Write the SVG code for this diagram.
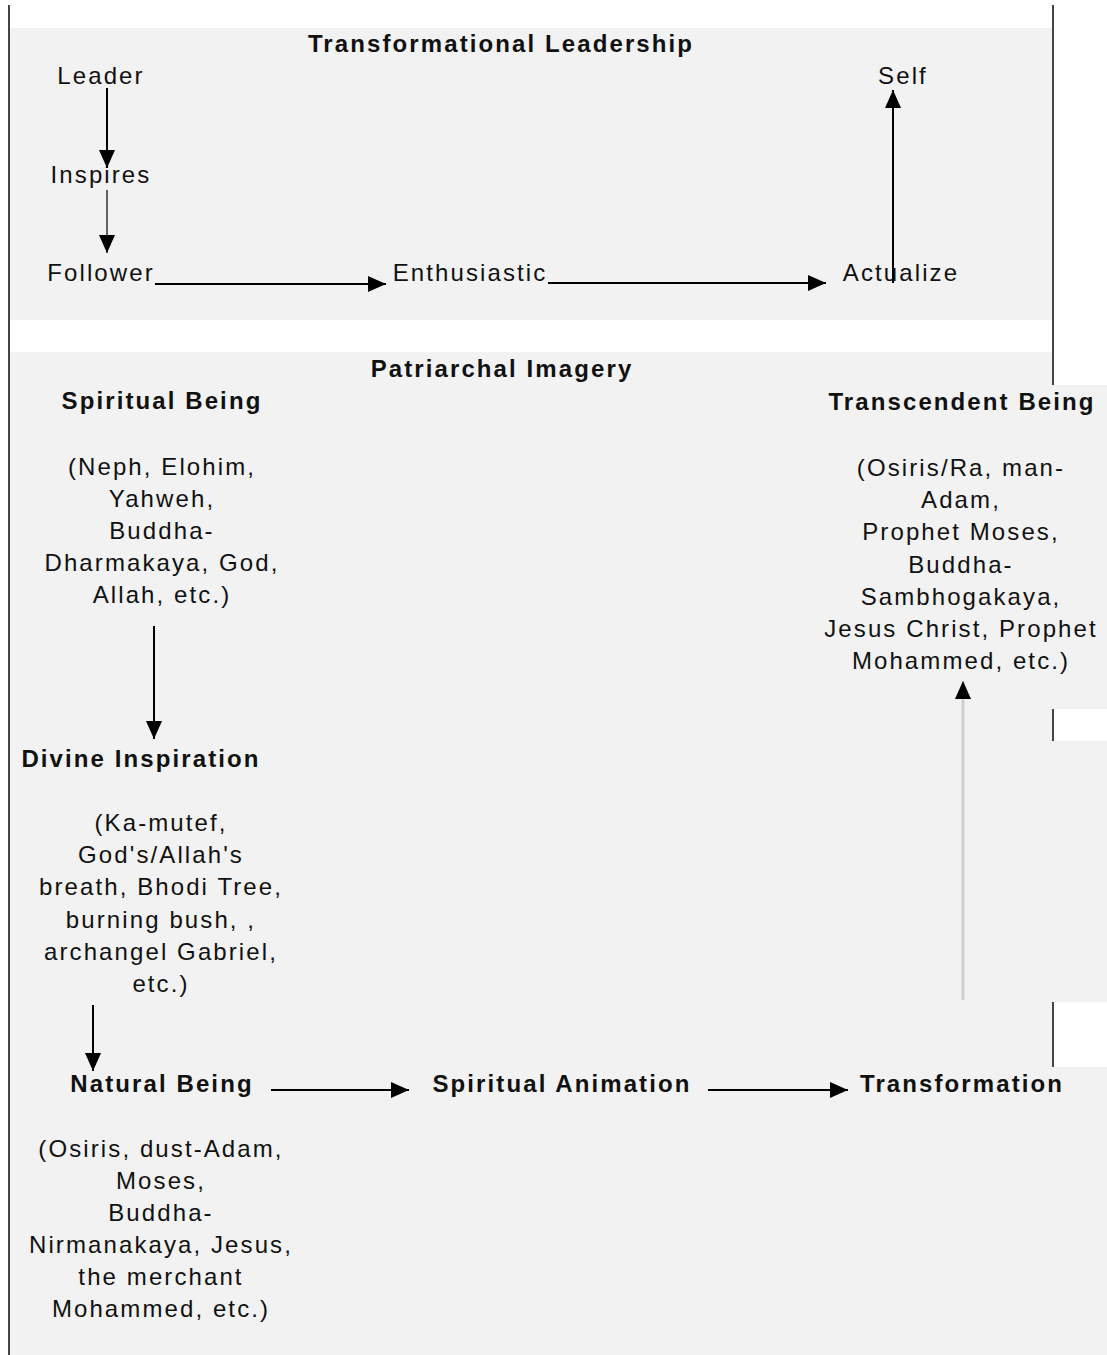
<svg xmlns="http://www.w3.org/2000/svg" width="1107" height="1355" viewBox="0 0 1107 1355">
<defs>
<style>
text{font-family:"Liberation Sans",Arial,sans-serif;font-size:24px;fill:#111;letter-spacing:2.1px}
.b{font-weight:bold;letter-spacing:2.1px}
.c{text-anchor:middle}
.panel{fill:#f2f2f2}
.border{stroke:#444;stroke-width:2;fill:none}
.conn{stroke:#000;stroke-width:2;fill:none}
.thin{stroke-width:1.2}
.grey{stroke:#cfcfcf;stroke-width:3}
</style>
<marker id="ah" viewBox="0 0 18 16" refX="18" refY="8" markerWidth="18" markerHeight="16" markerUnits="userSpaceOnUse" orient="auto">
<path d="M0,0 L18,8 L0,16 z" fill="#000"/>
</marker>
</defs>
<rect width="1107" height="1355" fill="#fff"/>
<g id="background">
<rect class="panel" x="10" y="28" width="1042" height="292"/>
<rect class="panel" x="10" y="352" width="1042" height="1003"/>
<rect class="panel" x="1052" y="385" width="55" height="324"/>
<rect class="panel" x="1052" y="741" width="55" height="261"/>
<rect class="panel" x="1052" y="1067" width="55" height="288"/>
<line class="border" x1="9" y1="5" x2="9" y2="1355"/>
<line class="border" x1="1053" y1="5" x2="1053" y2="385"/>
<line class="border" x1="1053" y1="709" x2="1053" y2="741"/>
<line class="border" x1="1053" y1="1002" x2="1053" y2="1067"/>
</g>
<g id="title-transformational">
<text class="b c" x="501" y="52">Transformational Leadership</text>
</g>
<g id="leader"><text class="c" x="101" y="84">Leader</text></g>
<g id="inspires"><text class="c" x="101" y="183">Inspires</text></g>
<g id="follower"><text class="c" x="101" y="281">Follower</text></g>
<g id="enthusiastic"><text class="c" x="470" y="281">Enthusiastic</text></g>
<g id="actualize"><text class="c" x="901" y="281">Actualize</text></g>
<g id="self"><text class="c" x="903" y="84">Self</text></g>
<g id="title-patriarchal">
<text class="b c" x="502" y="377">Patriarchal Imagery</text>
</g>
<g id="spiritual-being">
<text class="b c" x="162" y="409">Spiritual Being</text>
<text class="c" x="162" y="475">(Neph, Elohim,</text>
<text class="c" x="162" y="507">Yahweh,</text>
<text class="c" x="162" y="539">Buddha-</text>
<text class="c" x="162" y="571">Dharmakaya, God,</text>
<text class="c" x="162" y="603">Allah, etc.)</text>
</g>
<g id="divine-inspiration">
<text class="b c" x="141" y="767">Divine Inspiration</text>
<text class="c" x="161" y="831">(Ka-mutef,</text>
<text class="c" x="161" y="863">God's/Allah's</text>
<text class="c" x="161" y="895">breath, Bhodi Tree,</text>
<text class="c" x="161" y="928">burning bush, ,</text>
<text class="c" x="161" y="960">archangel Gabriel,</text>
<text class="c" x="161" y="992">etc.)</text>
</g>
<g id="natural-being">
<text class="b c" x="162" y="1092">Natural Being</text>
<text class="c" x="161" y="1157">(Osiris, dust-Adam,</text>
<text class="c" x="161" y="1189">Moses,</text>
<text class="c" x="161" y="1221">Buddha-</text>
<text class="c" x="161" y="1253">Nirmanakaya, Jesus,</text>
<text class="c" x="161" y="1285">the merchant</text>
<text class="c" x="161" y="1317">Mohammed, etc.)</text>
</g>
<g id="spiritual-animation">
<text class="b c" x="562" y="1092">Spiritual Animation</text>
</g>
<g id="transformation">
<text class="b c" x="962" y="1092">Transformation</text>
</g>
<g id="transcendent-being">
<text class="b c" x="962" y="410">Transcendent Being</text>
<text class="c" x="961" y="476">(Osiris/Ra, man-</text>
<text class="c" x="961" y="508">Adam,</text>
<text class="c" x="961" y="540">Prophet Moses,</text>
<text class="c" x="961" y="573">Buddha-</text>
<text class="c" x="961" y="605">Sambhogakaya,</text>
<text class="c" x="961" y="637">Jesus Christ, Prophet</text>
<text class="c" x="961" y="669">Mohammed, etc.)</text>
</g>
<g id="connectors">
<line class="conn" x1="107" y1="88" x2="107" y2="168" marker-end="url(#ah)"/>
<line class="conn thin" x1="107" y1="190" x2="107" y2="253" marker-end="url(#ah)"/>
<line class="conn" x1="155" y1="284" x2="386" y2="284" marker-end="url(#ah)"/>
<line class="conn" x1="548" y1="283" x2="826" y2="283" marker-end="url(#ah)"/>
<line class="conn" x1="893" y1="283" x2="893" y2="90" marker-end="url(#ah)"/>
<line class="conn" x1="154" y1="626" x2="154" y2="739" marker-end="url(#ah)"/>
<line class="conn" x1="93" y1="1005" x2="93" y2="1071" marker-end="url(#ah)"/>
<line class="conn" x1="271" y1="1090" x2="409" y2="1090" marker-end="url(#ah)"/>
<line class="conn" x1="708" y1="1090" x2="848" y2="1090" marker-end="url(#ah)"/>
<line class="conn grey" x1="963" y1="1000" x2="963" y2="681" marker-end="url(#ah)"/>
</g>
</svg>
